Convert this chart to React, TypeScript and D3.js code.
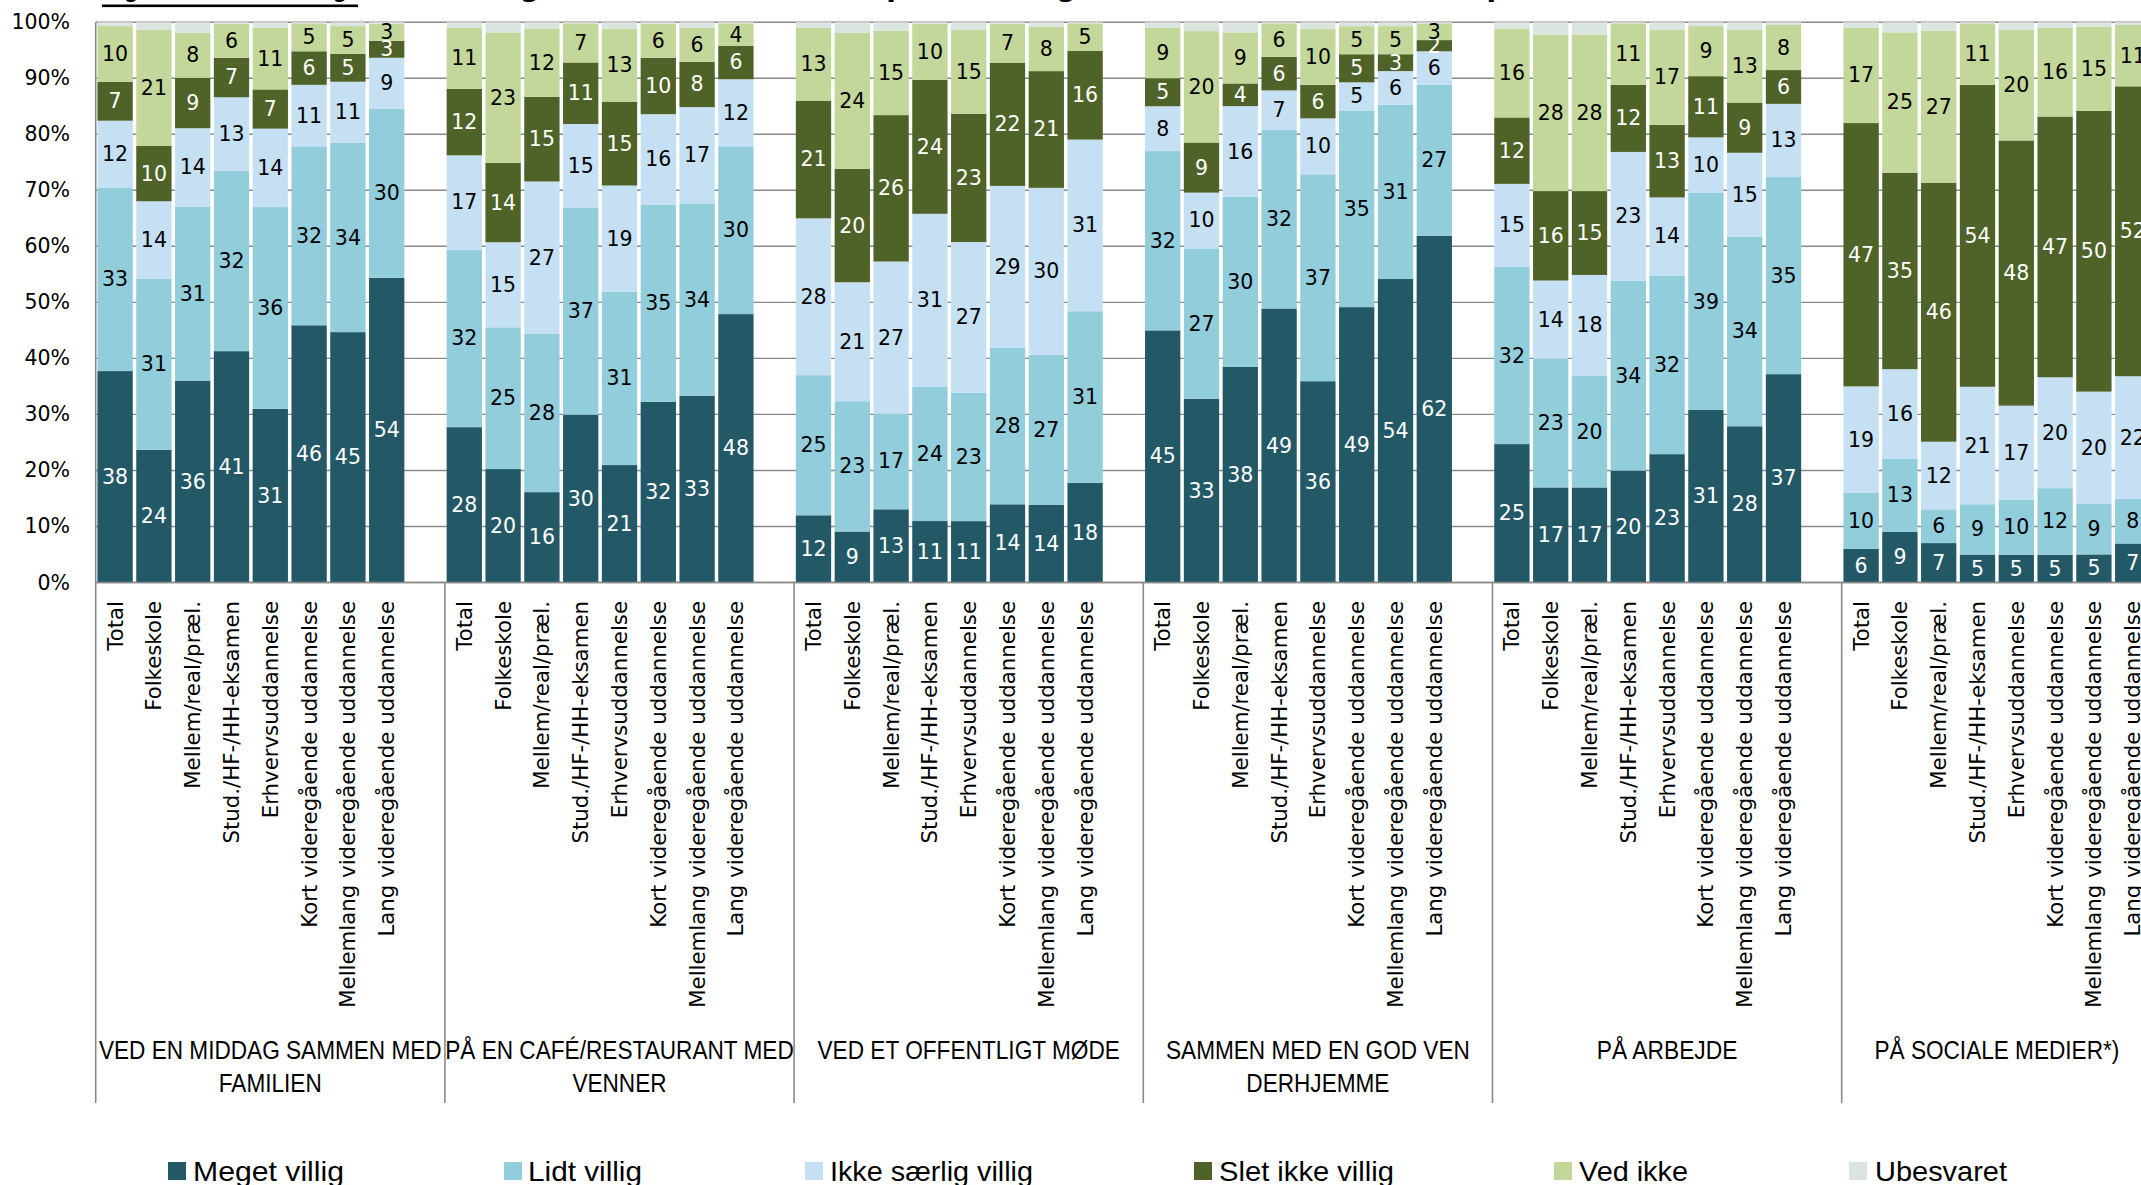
import React from "react";
import * as d3 from "d3";

// ---------- DATA ----------
const groupLabels: string[][] = [
  ["VED EN MIDDAG SAMMEN MED", "FAMILIEN"],
  ["PÅ EN CAFÉ/RESTAURANT MED", "VENNER"],
  ["VED ET OFFENTLIGT MØDE"],
  ["SAMMEN MED EN GOD VEN", "DERHJEMME"],
  ["PÅ ARBEJDE"],
  ["PÅ SOCIALE MEDIER*)"],
];

const categories: string[] = [
  "Total",
  "Folkeskole",
  "Mellem/real/præl.",
  "Stud./HF-/HH-eksamen",
  "Erhvervsuddannelse",
  "Kort videregående uddannelse",
  "Mellemlang videregående uddannelse",
  "Lang videregående uddannelse",
];

const seriesNames: string[] = [
  "Meget villig",
  "Lidt villig",
  "Ikke særlig villig",
  "Slet ikke villig",
  "Ved ikke",
  "Ubesvaret",
];

const seriesColors: string[] = [
  "#235966",
  "#92cddb",
  "#c6e0f3",
  "#4f6228",
  "#c4d79a",
  "#dbe5df",
];

const labelColors: string[] = ["#ffffff", "#000000", "#000000", "#ffffff", "#000000", "#000000"];

// values per series, groups in order, 8 categories each
const megetVillig: number[] = [
  38, 24, 36, 41, 31, 46, 45, 54,
  28, 20, 16, 30, 21, 32, 33, 48,
  12, 9, 13, 11, 11, 14, 14, 18,
  45, 33, 38, 49, 36, 49, 54, 62,
  25, 17, 17, 20, 23, 31, 28, 37,
  6, 9, 7, 5, 5, 5, 5, 7,
];
const lidtVillig: number[] = [
  33, 31, 31, 32, 36, 32, 34, 30,
  32, 25, 28, 37, 31, 35, 34, 30,
  25, 23, 17, 24, 23, 28, 27, 31,
  32, 27, 30, 32, 37, 35, 31, 27,
  32, 23, 20, 34, 32, 39, 34, 35,
  10, 13, 6, 9, 10, 12, 9, 8,
];
const ikkeSaerligVillig: number[] = [
  12, 14, 14, 13, 14, 11, 11, 9,
  17, 15, 27, 15, 19, 16, 17, 12,
  28, 21, 27, 31, 27, 29, 30, 31,
  8, 10, 16, 7, 10, 5, 6, 6,
  15, 14, 18, 23, 14, 10, 15, 13,
  19, 16, 12, 21, 17, 20, 20, 22,
];
const sletIkkeVillig: number[] = [
  7, 10, 9, 7, 7, 6, 5, 3,
  12, 14, 15, 11, 15, 10, 8, 6,
  21, 20, 26, 24, 23, 22, 21, 16,
  5, 9, 4, 6, 6, 5, 3, 2,
  12, 16, 15, 12, 13, 11, 9, 6,
  47, 35, 46, 54, 48, 47, 50, 52,
];
const vedIkke: number[] = [
  10, 21, 8, 6, 11, 5, 5, 3,
  11, 23, 12, 7, 13, 6, 6, 4,
  13, 24, 15, 10, 15, 7, 8, 5,
  9, 20, 9, 6, 10, 5, 5, 3,
  16, 28, 28, 11, 17, 9, 13, 8,
  17, 25, 27, 11, 20, 16, 15, 11,
];
const ubesvaret: number[] = [
  0.7, 1.4, 1.9, 0.3, 1.0, 0.2, 0.7, 0.3,
  1.0, 1.8, 1.2, 0.2, 1.2, 0.3, 1.0, 0.2,
  1.0, 1.9, 1.5, 0.3, 1.4, 0.3, 0.8, 0.2,
  1.0, 1.6, 1.8, 0.2, 1.2, 0.7, 0.7, 0.2,
  1.2, 2.2, 2.2, 0.2, 1.4, 0.7, 1.4, 0.5,
  1.0, 1.8, 1.5, 0.2, 1.4, 1.0, 0.8, 0.5,
];

const yTicks: number[] = [0, 10, 20, 30, 40, 50, 60, 70, 80, 90, 100];

const titleUnderlined = "Figur 2 (fortsætning)";
const titleRest = ": Hvor villig er du til at diskutere politik i følgende situationer? Fordelt på uddannelse";

// ---------- LAYOUT ----------
const W = 2141;
const H = 1185;
const plotLeft = 95.7;
const slotW = 38.8;
const yTop = 22.2;
const yBottom = 582.5;
const dividerBottom = 1103;

const legendPos = [
  { sx: 168, tx: 193, tl: 151 },
  { sx: 504, tx: 528, tl: 114 },
  { sx: 805, tx: 830, tl: 203 },
  { sx: 1194, tx: 1219, tl: 175 },
  { sx: 1554, tx: 1579, tl: 109 },
  { sx: 1849, tx: 1875, tl: 132 },
];

let measureCtx: CanvasRenderingContext2D | null = null;
function measure(text: string, font: string): number {
  if (!measureCtx) {
    const c = document.createElement("canvas");
    measureCtx = c.getContext("2d");
  }
  if (!measureCtx) return text.length * 14;
  measureCtx.font = font;
  return measureCtx.measureText(text).width;
}

export default function App() {
  const seriesArrays = [megetVillig, lidtVillig, ikkeSaerligVillig, sletIkkeVillig, vedIkke, ubesvaret];

  // slot keys: each group has 8 categories + one blank slot (except the last)
  const slotKeys: string[] = [];
  groupLabels.forEach((_, g) => {
    categories.forEach((_, c) => slotKeys.push(`${g}|${c}`));
    if (g < groupLabels.length - 1) slotKeys.push(`${g}|gap`);
  });

  const x = d3
    .scaleBand<string>()
    .domain(slotKeys)
    .range([plotLeft, plotLeft + slotKeys.length * slotW])
    .paddingInner(0.09)
    .paddingOuter(0.045);
  const step = x.step();

  const y = d3.scaleLinear().domain([0, 1]).range([yBottom, yTop]);

  type Row = { key: string; g: number; c: number; [k: string]: any };
  const rows: Row[] = [];
  groupLabels.forEach((_, g) =>
    categories.forEach((_, c) => {
      const i = g * categories.length + c;
      const r: Row = { key: `${g}|${c}`, g, c };
      seriesNames.forEach((s, si) => (r[s] = seriesArrays[si][i]));
      rows.push(r);
    })
  );

  const stacked = d3
    .stack<Row>()
    .keys(seriesNames)
    .order(d3.stackOrderNone)
    .offset(d3.stackOffsetExpand)(rows);

  const groupStart = (g: number) => plotLeft + g * 9 * step;
  const groupWidth = (g: number) => (g < groupLabels.length - 1 ? 9 : 8) * step;

  const font = "'DejaVu Sans', Verdana, sans-serif";
  const narrow = "'Liberation Sans Narrow', 'Liberation Sans', Arial, sans-serif";

  return (
    <div style={{ position: "absolute", left: 0, top: 0, width: W, height: H, overflow: "hidden" }}>
      <svg width={W} height={H} style={{ display: "block", background: "#fff" }}>
        {/* title (mostly cropped) */}
        <text x={102} y={-4} fontFamily={font} fontWeight="bold" fontSize={28} fill="#000">
          <tspan textLength={256} lengthAdjust="spacingAndGlyphs">{titleUnderlined}</tspan>
          <tspan>{titleRest}</tspan>
        </text>
        <rect x={102} y={4.5} width={256} height={2.6} fill="#000" />

        {/* gridlines */}
        {yTicks.map((t) => (
          <line
            key={t}
            x1={plotLeft}
            x2={W}
            y1={y(t / 100)}
            y2={y(t / 100)}
            stroke="#8a8a8a"
            strokeWidth={1.4}
          />
        ))}
        {/* y axis labels */}
        {yTicks.map((t) => (
          <text
            key={"l" + t}
            x={70}
            y={y(t / 100)}
            textAnchor="end"
            dominantBaseline="central"
            fontFamily={font}
            fontSize={20.5}
            fill="#000"
          >
            {t}%
          </text>
        ))}

        {/* bars */}
        {stacked.map((layer, si) => (
          <g key={layer.key} fill={seriesColors[si]}>
            {layer.map((d) => {
              const k = (d.data as Row).key;
              return (
                <rect
                  key={k}
                  x={x(k)}
                  width={x.bandwidth()}
                  y={y(d[1])}
                  height={Math.max(0, y(d[0]) - y(d[1]))}
                />
              );
            })}
          </g>
        ))}

        {/* value labels */}
        {stacked.slice(0, 5).map((layer, si) => (
          <g key={"v" + layer.key}>
            {layer.map((d) => {
              const r = d.data as Row;
              const cx = (x(r.key) as number) + x.bandwidth() / 2;
              const cy = (y(d[0]) + y(d[1])) / 2;
              return (
                <text
                  key={r.key}
                  x={cx}
                  y={cy}
                  textAnchor="middle"
                  dominantBaseline="central"
                  fontFamily={font}
                  fontSize={20.5}
                  fill={labelColors[si]}
                >
                  {r[layer.key]}
                </text>
              );
            })}
          </g>
        ))}

        {/* axis line + dividers */}
        <line x1={plotLeft} x2={W} y1={yBottom} y2={yBottom} stroke="#8a8a8a" strokeWidth={1.6} />
        {groupLabels.map((_, g) => (
          <line
            key={"d" + g}
            x1={groupStart(g)}
            x2={groupStart(g)}
            y1={g === 0 ? yTop : yBottom}
            y2={dividerBottom}
            stroke="#8a8a8a"
            strokeWidth={1.6}
          />
        ))}

        {/* category labels */}
        {rows.map((r) => (
          <text
            key={"c" + r.key}
            transform={`translate(${(x(r.key) as number) + x.bandwidth() / 2},601) rotate(-90)`}
            textAnchor="end"
            dominantBaseline="central"
            fontFamily={font}
            fontSize={21.3}
            fill="#000"
          >
            {categories[r.c]}
          </text>
        ))}

        {/* group labels */}
        {groupLabels.map((lines, g) =>
          lines.map((ln, li) => (
            <text
              key={"g" + g + "_" + li}
              x={groupStart(g) + groupWidth(g) / 2}
              y={1059 + li * 33}
              textAnchor="middle"
              fontFamily={narrow}
              fontSize={26.5}
              textLength={measure(ln, "22.6px 'Liberation Sans', Arial, sans-serif")}
              lengthAdjust="spacingAndGlyphs"
              fill="#000"
            >
              {ln}
            </text>
          ))
        )}

        {/* legend */}
        {seriesNames.map((s, si) => (
          <g key={"lg" + s}>
            <rect x={legendPos[si].sx} y={1162} width={18} height={18} fill={seriesColors[si]} />
            <text
              x={legendPos[si].tx}
              y={1181}
              fontFamily={narrow}
              fontSize={28}
              textLength={legendPos[si].tl}
              lengthAdjust="spacingAndGlyphs"
              fill="#000"
            >
              {s}
            </text>
          </g>
        ))}
      </svg>
    </div>
  );
}
